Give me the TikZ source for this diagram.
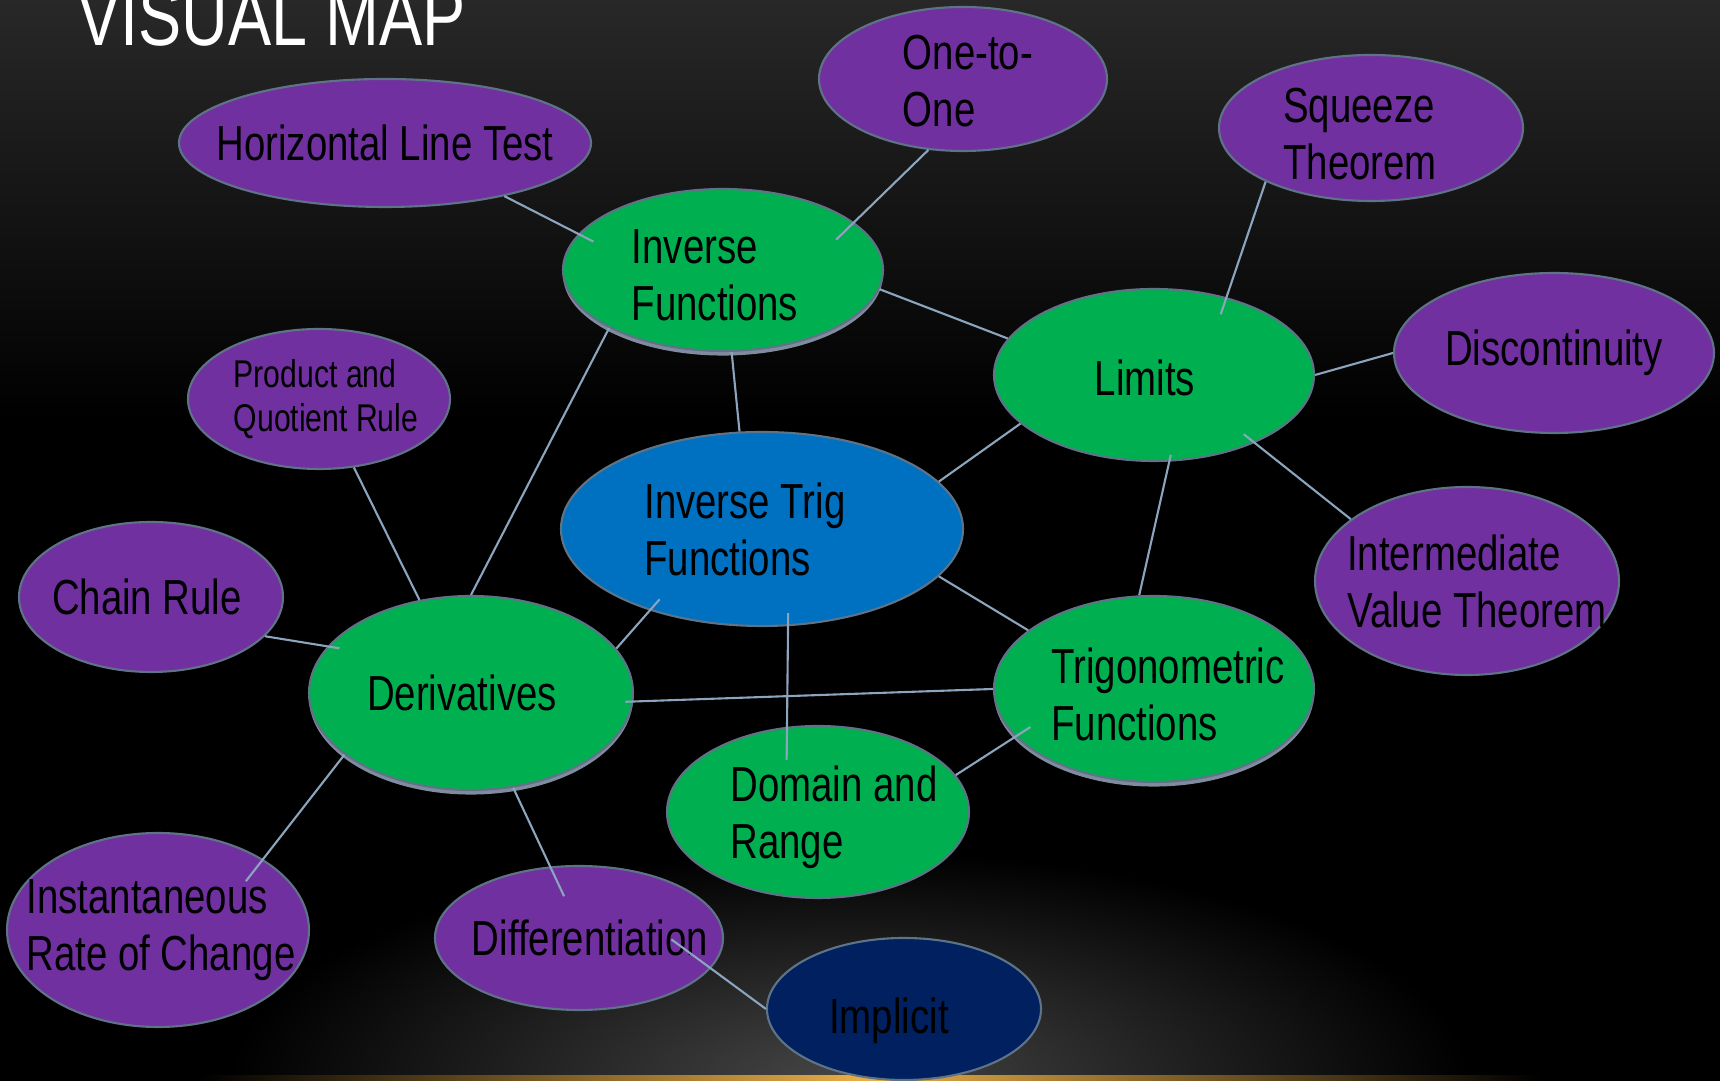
\documentclass[tikz,border=0pt]{standalone}
\usepackage{fontspec}
\setmainfont{Liberation Sans}[FakeStretch=0.78]
\usepackage{tikz}
\usetikzlibrary{shapes.geometric,shadows}

\definecolor{purp}{HTML}{7030A0}
\definecolor{grn}{HTML}{00B050}
\definecolor{blu}{HTML}{0070C0}
\definecolor{navy}{HTML}{002060}
\definecolor{rim}{RGB}{95,115,135}
\definecolor{rimgray}{RGB}{128,140,158}
\definecolor{linkc}{RGB}{140,165,190}
\definecolor{bgtop}{RGB}{40,40,40}
\definecolor{glow}{RGB}{70,70,70}
\definecolor{gold}{RGB}{235,175,70}

\tikzset{
  bub/.style={ellipse, draw=rim, line width=0.6pt, inner sep=0pt},
  purpbub/.style={bub, fill=purp},
  greenbub/.style={bub, fill=grn},
  rimmed/.style={drop shadow={shadow xshift=0pt, shadow yshift=-1.3pt, fill=rimgray, opacity=1}},
  lbl/.style={align=left, inner sep=0pt, text=black, font=\fontsize{14}{16.2}\selectfont},
  link/.style={draw=linkc, line width=0.6pt}
}

\begin{document}
\begin{tikzpicture}
    \useasboundingbox (0,0) rectangle (17.2,-10.81);

    % Background: dark top fading to black, soft glow at the bottom
    \fill[black] (0,0) rectangle (17.2,-10.81);
    \shade[top color=bgtop, bottom color=black] (0,0) rectangle (17.2,-4.2);
    \begin{scope}
        \clip (0,-7) rectangle (17.2,-10.81);
        \shade[inner color=glow, outer color=black] (8.5,-10.81) ellipse (6.2 and 2.3);
        \shade[left color=black, right color=black, middle color=gold] (2.0,-10.81) rectangle (15.4,-10.76);
    \end{scope}

    % Title
    \node[font=\fontsize{23.6}{26}\selectfont, text=white, anchor=base west, inner sep=0pt] (title) at (0.77,-0.46) {VISUAL MAP};

    % Centre topic
    \node[bub, fill=blu, minimum width=4.02cm, minimum height=1.94cm,
          label={[lbl, xshift=-0.17cm]center:{Inverse Trig\\Functions}}] (itf) at (7.62,-5.29) {};

    % Green topics
    \node[greenbub, rimmed, minimum width=3.2cm, minimum height=1.62cm,
          label={[lbl, xshift=-0.08cm, yshift=-0.05cm]center:{Inverse\\Functions}}] (inv) at (7.23,-2.70) {};
    \node[greenbub, minimum width=3.2cm, minimum height=1.72cm,
          label={[lbl, xshift=-0.09cm, yshift=-0.03cm]center:Limits}] (lim) at (11.54,-3.75) {};
    \node[greenbub, rimmed, minimum width=3.24cm, minimum height=1.94cm,
          label={[lbl, xshift=-0.09cm]center:Derivatives}] (der) at (4.71,-6.93) {};
    \node[greenbub, rimmed, minimum width=3.2cm, minimum height=1.86cm,
          label={[lbl, xshift=0.14cm, yshift=-0.05cm]center:{Trigonometric\\Functions}}] (tf) at (11.54,-6.89) {};
    \node[greenbub, minimum width=3.02cm, minimum height=1.72cm,
          label={[lbl, xshift=0.16cm, yshift=-0.05cm]center:{Domain and\\Range}}] (dom) at (8.18,-8.12) {};

    % Purple sub topics
    \node[purpbub, minimum width=4.12cm, minimum height=1.28cm,
          label={[lbl]center:Horizontal Line Test}] (hlt) at (3.85,-1.43) {};
    \node[purpbub, minimum width=2.88cm, minimum height=1.44cm,
          label={[lbl, xshift=0.05cm, yshift=-0.02cm]center:{One-to-\\One}}] (one) at (9.63,-0.79) {};
    \node[purpbub, minimum width=3.04cm, minimum height=1.46cm,
          label={[lbl, xshift=-0.11cm, yshift=-0.06cm]center:{Squeeze\\Theorem}}] (sqz) at (13.71,-1.28) {};
    \node[purpbub, minimum width=3.2cm, minimum height=1.6cm,
          label={[lbl]center:Discontinuity}] (dis) at (15.54,-3.53) {};
    \node[purpbub, minimum width=2.62cm, minimum height=1.4cm,
          label={[lbl, font=\fontsize{11}{12.6}\selectfont, xshift=0.07cm]center:{Product and\\Quotient Rule}}] (pqr) at (3.19,-3.99) {};
    \node[purpbub, minimum width=3.04cm, minimum height=1.88cm,
          label={[lbl, xshift=0.10cm]center:{Intermediate\\Value Theorem}}] (ivt) at (14.67,-5.81) {};
    \node[purpbub, minimum width=2.64cm, minimum height=1.5cm,
          label={[lbl, xshift=-0.04cm]center:Chain Rule}] (chain) at (1.51,-5.97) {};
    \node[purpbub, minimum width=3.02cm, minimum height=1.94cm,
          label={[lbl, xshift=0.03cm]center:{Instantaneous\\Rate of Change}}] (irc) at (1.58,-9.30) {};
    \node[purpbub, minimum width=2.88cm, minimum height=1.44cm,
          label={[lbl, xshift=0.11cm]center:Differentiation}] (dif) at (5.79,-9.38) {};
    \node[bub, fill=navy, minimum width=2.74cm, minimum height=1.42cm,
          label={[lbl, xshift=-0.15cm, yshift=-0.12cm]center:Implicit}] (imp) at (9.04,-10.09) {};

    % Connectors
    \draw[link, shorten >=-0.17cm] (hlt.-24) -- (inv.166);
    \draw[link, shorten >=-0.25cm] (one.-116) -- (inv.20);
    \draw[link] (inv.-7) -- (lim.166);
    \draw[link] (inv.-84) -- (itf.103);
    \draw[link] (inv.-153) -- (der.90);
    \draw[link, shorten >=-0.18cm] (sqz.-153) -- (lim.47);
    \draw[link] (lim.0) -- (dis.180);
    \draw[link] (lim.200) -- (itf.15);
    \draw[link, shorten <=-0.14cm] (lim.-34) -- (ivt.152);
    \draw[link, shorten <=-0.07cm] (lim.-80) -- (tf.99);
    \draw[link] (itf.-15) -- (tf.155);
    \draw[link, shorten <=-0.15cm] (itf.216) -- (der.17);
    \draw[link, shorten <=-0.13cm, shorten >=-0.33cm] (itf.-75) -- (dom.110);
    \draw[link] (pqr.-63) -- (der.119);
    \draw[link, shorten >=-0.12cm] (chain.-19) -- (der.162);
    \draw[link, shorten <=-0.08cm] (der.-3) -- (tf.180);
    \draw[link, shorten <=-0.18cm] (tf.199) -- (dom.15);
    \draw[link, shorten >=-0.28cm] (der.-154) -- (irc.34);
    \draw[link, shorten >=-0.33cm] (der.-66) -- (dif.112);
    \draw[link, shorten <=-0.49cm] (dif.-13) -- (imp.180);
\end{tikzpicture}
\end{document}
